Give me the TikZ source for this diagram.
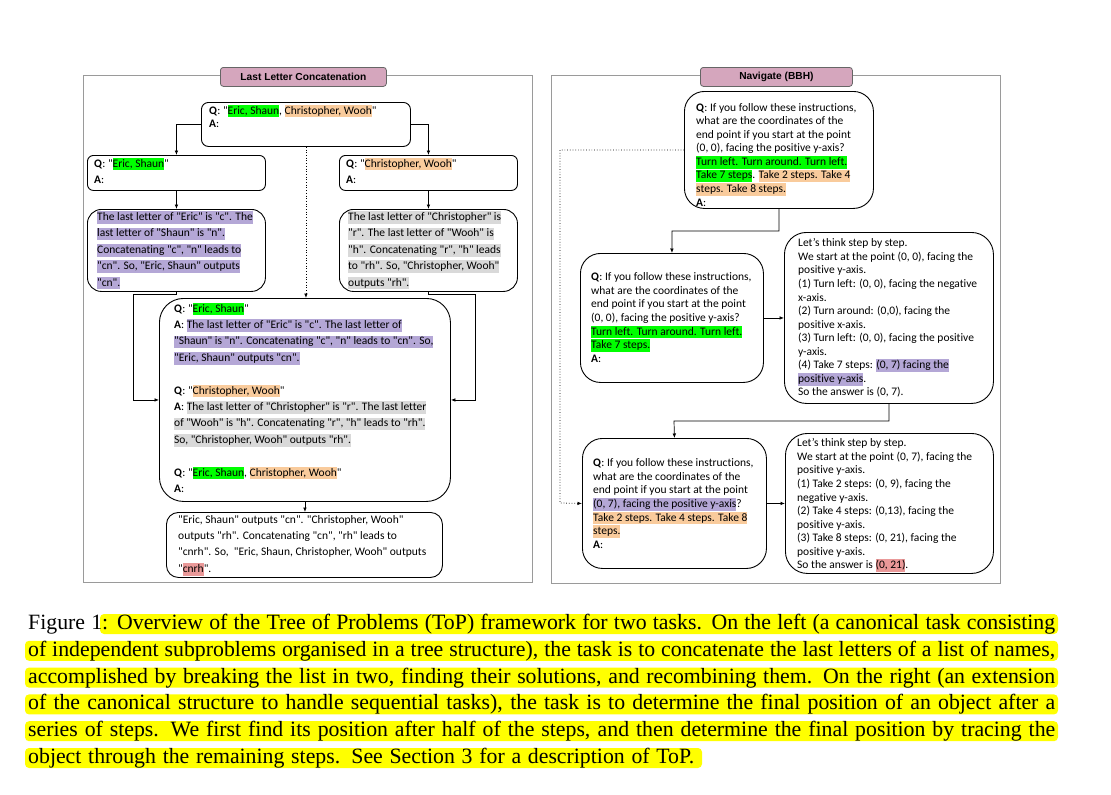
\documentclass[tikz,border=0pt]{standalone}
\usepackage{fontspec}
\setmainfont{Liberation Serif}
\newfontfamily\calfont[Ligatures=NoCommon]{Carlito}
\newfontfamily\arialfont{Liberation Sans}
\usetikzlibrary{arrows.meta}
\definecolor{hgreen}{HTML}{00FF00}
\definecolor{horange}{HTML}{F9CB9C}
\definecolor{hpurple}{HTML}{B4A7D6}
\definecolor{hgray}{HTML}{D9D9D9}
\definecolor{hred}{HTML}{EA9999}
\definecolor{capyellow}{HTML}{FFFF00}
\definecolor{ttlfill}{HTML}{D5A6BD}
\definecolor{ttlborder}{HTML}{666666}
\definecolor{framegray}{HTML}{9A9A9A}
\newcommand\hlt[2]{{\setlength{\fboxsep}{0pt}\colorbox{#1}{\rule[-3.3pt]{0pt}{12.6pt}#2}}}
\newcommand\txtblock[1]{\begin{tabular}[t]{@{}l@{}}#1\end{tabular}}
\tikzset{
  panel/.style={draw=framegray, line width=0.8pt, inner sep=0pt, anchor=north west},
  ttl/.style={draw=ttlborder, fill=ttlfill, rounded corners=3pt, line width=0.8pt, inner sep=0pt,
    font=\arialfont\bfseries\fontsize{10.2}{12}\selectfont, anchor=north west},
  bx/.style={draw=black, line width=0.9pt, inner sep=0pt, anchor=north west},
  tx/.style={anchor=base west, inner sep=0pt, font=\calfont\fontsize{11.5}{13.55}\selectfont},
  txl/.style={anchor=base west, inner sep=0pt, font=\calfont\fontsize{11.5}{16.4}\selectfont},
  arr/.style={-{Latex[length=4.5pt,width=3.6pt]}, line width=0.7pt},
  dotline/.style={dotted, line width=0.8pt},
  captxt/.style={anchor=base west, inner sep=0pt, font=\fontsize{21.8}{26.8}\selectfont},
  band/.style={fill=capyellow, rounded corners=4pt},
}
\begin{document}
\begin{tikzpicture}[x=1pt,y=-1pt]
\useasboundingbox[fill=white] (0,0) rectangle (1111,795);

% ---------- Left panel ----------
\node[panel, minimum width=449, minimum height=507] (lpanel) at (83,75) {};
\node[ttl, minimum width=166, minimum height=19] (lttl) at (220,67) {Last Letter Concatenation};

\node[bx, rounded corners=7pt, minimum width=209, minimum height=44] (topq) at (201,102) {};
\node[bx, rounded corners=6pt, minimum width=178, minimum height=35] (lq) at (87,155) {};
\node[bx, rounded corners=6pt, minimum width=178, minimum height=35] (rq) at (339,155) {};
\node[bx, rounded corners=14pt, minimum width=178, minimum height=82] (la) at (87,209) {};
\node[bx, rounded corners=14pt, minimum width=178, minimum height=82] (ra) at (339,209) {};
\node[bx, rounded corners=24pt, minimum width=291, minimum height=203] (big) at (159,298) {};
\node[bx, rounded corners=12pt, minimum width=276, minimum height=65] (fin) at (166,512) {};

\node[tx] (topqt) at (209,114) {\txtblock{\textbf{Q}: "\hlt{hgreen}{Eric, Shaun}, \hlt{horange}{Christopher, Wooh}"\\ \textbf{A}:}};
\node[txl] (lqt) at (94,167) {\txtblock{\textbf{Q}: "\hlt{hgreen}{Eric, Shaun}"\\ \textbf{A}:}};
\node[txl] (rqt) at (346,167) {\txtblock{\textbf{Q}: "\hlt{horange}{Christopher, Wooh}"\\ \textbf{A}:}};
\node[txl] (lat) at (97,220.5) {\txtblock{%
\hlt{hpurple}{The last letter of "Eric" is "c". The}\\
\hlt{hpurple}{last letter of "Shaun" is "n".}\\
\hlt{hpurple}{Concatenating "c", "n" leads to}\\
\hlt{hpurple}{"cn". So, "Eric, Shaun" outputs}\\
\hlt{hpurple}{"cn".}}};
\node[txl] (rat) at (348,220.5) {\txtblock{%
\hlt{hgray}{The last letter of "Christopher" is}\\
\hlt{hgray}{"r". The last letter of "Wooh" is}\\
\hlt{hgray}{"h". Concatenating "r", "h" leads}\\
\hlt{hgray}{to "rh". So, "Christopher, Wooh"}\\
\hlt{hgray}{outputs "rh".}}};
\node[txl] (bigt) at (174,312) {\txtblock{%
\textbf{Q}: "\hlt{hgreen}{Eric, Shaun}"\\
\textbf{A}: \hlt{hpurple}{The last letter of "Eric" is "c". The last letter of}\\
\hlt{hpurple}{"Shaun" is "n". Concatenating "c", "n" leads to "cn". So,}\\
\hlt{hpurple}{"Eric, Shaun" outputs "cn".}\\
\\
\textbf{Q}: "\hlt{horange}{Christopher, Wooh}"\\
\textbf{A}: \hlt{hgray}{The last letter of "Christopher" is "r". The last letter}\\
\hlt{hgray}{of "Wooh" is "h". Concatenating "r", "h" leads to "rh".}\\
\hlt{hgray}{So, "Christopher, Wooh" outputs "rh".}\\
\\
\textbf{Q}: "\hlt{hgreen}{Eric, Shaun}, \hlt{horange}{Christopher, Wooh}"\\
\textbf{A}:}};
\node[txl] (fint) at (178,523) {\txtblock{%
"Eric, Shaun" outputs "cn". "Christopher, Wooh"\\
outputs "rh". Concatenating "cn", "rh" leads to\\
"cnrh". So,~ "Eric, Shaun, Christopher, Wooh" outputs\\
"\hlt{hred}{cnrh}".}};

\coordinate (lj) at (133,294);
\coordinate (rj) at (475,294);
\draw[arr] (topq.west) -| (lq.north);
\draw[arr] (topq.east) -| (rq.north);
\draw[arr] (lq.south) -- (la.north);
\draw[arr] (rq.south) -- (ra.north);
\draw[arr, dotline] (topq.south) -- (topq.south |- big.north);
\draw[arr] (la.south) |- (lj) |- (big.west);
\draw[arr] (ra.south) |- (rj) |- (big.east);
\draw[arr] (big.south) -- (big.south |- fin.north);

% ---------- Right panel ----------
\node[panel, minimum width=449, minimum height=508] (rpanel) at (551,75) {};
\node[ttl, minimum width=152, minimum height=19] (rttl) at (700,67) {Navigate (BBH)};

\node[bx, rounded corners=20pt, minimum width=189, minimum height=117] (nq1) at (684,91) {};
\node[bx, rounded corners=20pt, minimum width=183, minimum height=129] (nq2) at (580,253) {};
\node[bx, rounded corners=22pt, minimum width=209, minimum height=171] (na2) at (784,232) {};
\node[bx, rounded corners=20pt, minimum width=184, minimum height=130] (nq3) at (582,438) {};
\node[bx, rounded corners=22pt, minimum width=208, minimum height=140] (na3) at (785,433) {};

\node[tx] (nq1t) at (696,111.2) {\txtblock{%
\textbf{Q}: If you follow these instructions,\\
what are the coordinates of the\\
end point if you start at the point\\
(0, 0), facing the positive y-axis?\\
\hlt{hgreen}{Turn left. Turn around. Turn left.}\\
\hlt{hgreen}{Take 7 steps}. \hlt{horange}{Take 2 steps. Take 4}\\
\hlt{horange}{steps. Take 8 steps.}\\
\textbf{A}:}};
\node[tx] (nq2t) at (591,280.8) {\txtblock{%
\textbf{Q}: If you follow these instructions,\\
what are the coordinates of the\\
end point if you start at the point\\
(0, 0), facing the positive y-axis?\\
\hlt{hgreen}{Turn left. Turn around. Turn left.}\\
\hlt{hgreen}{Take 7 steps.}\\
\textbf{A}:}};
\node[tx] (na2t) at (798,246.8) {\txtblock{%
Let’s think step by step.\\
We start at the point (0, 0), facing the\\
positive y-axis.\\
(1) Turn left: (0, 0), facing the negative\\
x-axis.\\
(2) Turn around: (0,0), facing the\\
positive x-axis.\\
(3) Turn left: (0, 0), facing the positive\\
y-axis.\\
(4) Take 7 steps: \hlt{hpurple}{(0, 7) facing the}\\
\hlt{hpurple}{positive y-axis}.\\
So the answer is (0, 7).}};
\node[tx] (nq3t) at (593,466.8) {\txtblock{%
\textbf{Q}: If you follow these instructions,\\
what are the coordinates of the\\
end point if you start at the point\\
\hlt{hpurple}{(0, 7), facing the positive y-axis}?\\
\hlt{horange}{Take 2 steps. Take 4 steps. Take 8}\\
\hlt{horange}{steps.}\\
\textbf{A}:}};
\node[tx] (na3t) at (797,446.8) {\txtblock{%
Let’s think step by step.\\
We start at the point (0, 7), facing the\\
positive y-axis.\\
(1) Take 2 steps: (0, 9), facing the\\
negative y-axis.\\
(2) Take 4 steps: (0,13), facing the\\
positive y-axis.\\
(3) Take 8 steps: (0, 21), facing the\\
positive y-axis.\\
So the answer is \hlt{hred}{(0, 21)}.}};

\coordinate (nj1) at (672,231);
\coordinate (nj2) at (674,421);
\coordinate (nd) at (560,503);
\draw[arr] (nq1.south) |- (nj1) -- (nq2.north);
\draw[arr] (nq2.east) -- (nq2.east -| na2.west);
\draw[arr] (na2.south) |- (nj2) -- (nq3.north);
\draw[arr] (nq3.east) -- (nq3.east -| na3.west);
\draw[arr, dotline] (nq1.west) -| (nd) -- (nq3.west);

% ---------- Caption ----------
\fill[band] (100,614) rectangle (1058,634);
\fill[band] (25,640.8) rectangle (1058,660.8);
\fill[band] (25,667.6) rectangle (1058,687.6);
\fill[band] (25,694.4) rectangle (1058,714.4);
\fill[band] (25,721.2) rectangle (1058,741.2);
\fill[band] (25,748) rectangle (702,768);
\node[captxt] (c1) at (28,629.5) {\makebox[1027pt][s]{Figure 1: Overview of the Tree of Problems (ToP) framework for two tasks. On the left (a canonical task consisting}};
\node[captxt] (c2) at (28,656.3) {\makebox[1027pt][s]{of independent subproblems organised in a tree structure), the task is to concatenate the last letters of a list of names,}};
\node[captxt] (c3) at (28,683.1) {\makebox[1027pt][s]{accomplished by breaking the list in two, finding their solutions, and recombining them. On the right (an extension}};
\node[captxt] (c4) at (28,709.9) {\makebox[1027pt][s]{of the canonical structure to handle sequential tasks), the task is to determine the final position of an object after a}};
\node[captxt] (c5) at (28,736.7) {\makebox[1027pt][s]{series of steps. We first find its position after half of the steps, and then determine the final position by tracing the}};
\node[captxt] (c6) at (28,763.5) {\makebox[666pt][s]{object through the remaining steps. See Section 3 for a description of ToP.}};
\end{tikzpicture}
\end{document}
